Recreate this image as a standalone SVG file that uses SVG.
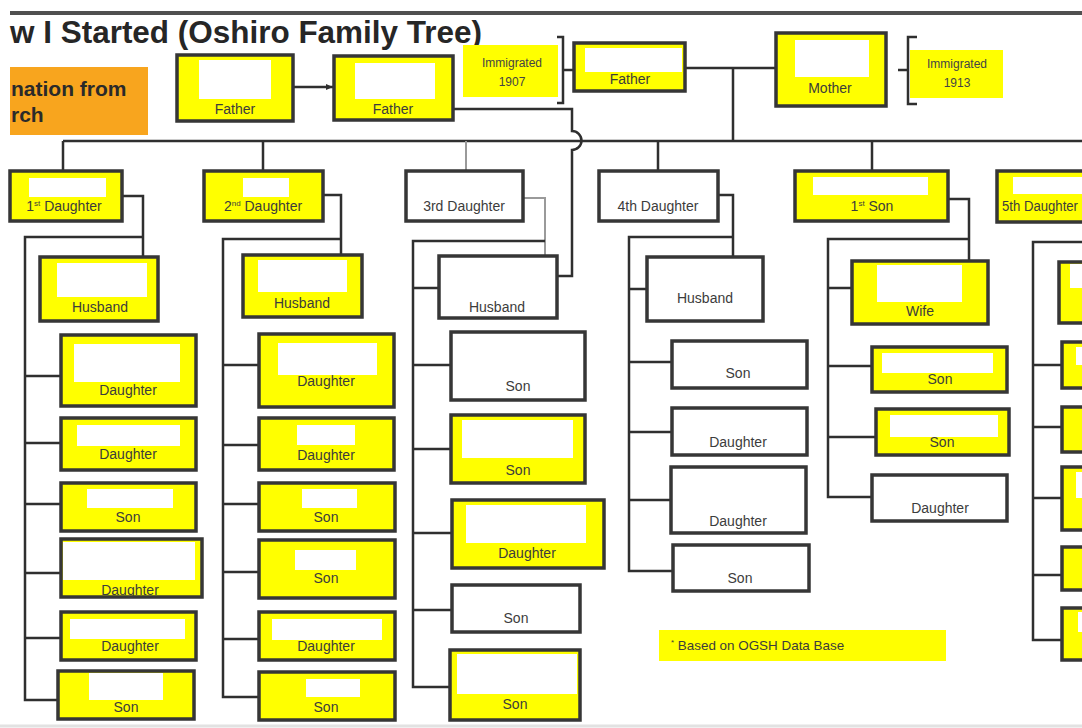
<svg xmlns="http://www.w3.org/2000/svg" width="1082" height="728" viewBox="0 0 1082 728">
<defs>
<style>
.box{stroke:#363636;stroke-width:3.5}
.y{fill:#FFFF00}
.w{fill:#ffffff}
.in{fill:#ffffff}
.lbl{font-family:"Liberation Sans",Arial,sans-serif;font-size:14px;fill:#3c3c3c;text-anchor:middle}
.sm{font-family:"Liberation Sans",Arial,sans-serif;font-size:12px;fill:#444;text-anchor:middle}
.ln{fill:none;stroke:#2f2f2f;stroke-width:2.5}
.lt{fill:none;stroke:#9a9a9a;stroke-width:2}
</style>
<marker id="ah" markerWidth="8" markerHeight="8" refX="7" refY="4" orient="auto" markerUnits="userSpaceOnUse">
<path d="M0,1 L7,4 L0,7 Z" fill="#2f2f2f"/>
</marker>
</defs>
<rect x="0" y="0" width="1082" height="728" fill="#ffffff"/>
<line x1="10" y1="13" x2="1082" y2="13" stroke="#505050" stroke-width="4"/>
<line x1="0" y1="726" x2="1082" y2="726" stroke="#e2e2e2" stroke-width="3"/>
<text x="10" y="43" font-family="'Liberation Sans',Arial,sans-serif" font-size="31" font-weight="bold" fill="#262626" textLength="472" lengthAdjust="spacingAndGlyphs">w I Started (Oshiro Family Tree)</text>

<g id="orange-note">
<rect x="10" y="67" width="138" height="68" fill="#F8A51E"/>
<text x="11" y="96" font-family="'Liberation Sans',Arial,sans-serif" font-size="21" font-weight="bold" fill="#2a2a2a">nation from</text>
<text x="11" y="122" font-family="'Liberation Sans',Arial,sans-serif" font-size="21" font-weight="bold" fill="#2a2a2a">rch</text>
</g>

<g id="connectors">
<line class="ln" x1="293" y1="87" x2="333" y2="87" marker-end="url(#ah)"/>
<path class="ln" d="M453,109 H572 V131 A9.5,9.5 0 0 1 572,150 V276 H557"/>
<path class="ln" d="M557,37 H563 V103 H557 M563,70 H574"/>
<path class="ln" d="M917,37 H908 V104 H917 M908,70 H898"/>
<path class="ln" d="M685,68 H776 M733,68 V141"/>
<path class="ln" d="M63,141 H1082"/>
<path class="ln" d="M63,141 V171 M263,141 V171 M658,141 V171 M872,141 V171"/>
<path class="lt" d="M466,141 V171"/>
<path class="ln" d="M122,196 H143 V257 M143,237 H25 V700 H58 M25,376 H61 M25,443 H61 M25,504 H61 M25,573 H61 M25,638 H61"/>
<path class="ln" d="M323,195 H341 V255 M341,239 H223 V697 H259 M223,365 H259 M223,445 H259 M223,504 H259 M223,572 H259 M223,639 H259"/>
<path class="lt" d="M523,198 H545 V256"/>
<path class="ln" d="M545,241 H413 V687 H450 M413,288 H439 M413,365 H451 M413,449 H451 M413,533 H452 M413,610 H452"/>
<path class="ln" d="M718,195 H733 V257 M733,237 H629 V571 H673 M629,289 H647 M629,362 H672 M629,432 H672 M629,500 H671"/>
<path class="ln" d="M948,199 H969 V261 M969,239 H828 V497 H872 M828,288 H852 M828,366 H872 M828,437 H876"/>
<path class="ln" d="M1082,242 H1033 V640 H1062 M1033,365 H1062 M1033,427 H1062 M1033,498 H1062 M1033,575 H1062"/>
</g>

<g id="gf1"><rect class="box y" x="177" y="55" width="116" height="66"/><rect class="in" x="199" y="60" width="72" height="39"/><text class="lbl" x="235" y="114">Father</text></g>
<g id="gf2"><rect class="box y" x="334" y="56" width="119" height="64"/><rect class="in" x="355" y="63" width="80" height="36"/><text class="lbl" x="393" y="114">Father</text></g>
<g id="imm1907"><rect x="463" y="45" width="95" height="52" fill="#FFFF00"/><text class="sm" x="512" y="67">Immigrated</text><text class="sm" x="512" y="86">1907</text></g>
<g id="father"><rect class="box y" x="574" y="43" width="111" height="48"/><rect class="in" x="585" y="48" width="97" height="24"/><text class="lbl" x="630" y="84">Father</text></g>
<g id="mother"><rect class="box y" x="776" y="33" width="110" height="73"/><rect class="in" x="795" y="40" width="74" height="37"/><text class="lbl" x="830" y="93">Mother</text></g>
<g id="imm1913"><rect x="910" y="50" width="93" height="48" fill="#FFFF00"/><text class="sm" x="957" y="68">Immigrated</text><text class="sm" x="957" y="87">1913</text></g>

<g id="d1"><rect class="box y" x="10" y="171" width="112" height="50"/><rect class="in" x="29" y="178" width="77" height="19"/><text class="lbl" x="64" y="211">1<tspan font-size="8" dy="-5">st</tspan><tspan dy="5"> Daughter</tspan></text></g>
<g id="d2"><rect class="box y" x="204" y="171" width="119" height="50"/><rect class="in" x="243" y="178" width="46" height="19"/><text class="lbl" x="263" y="211">2<tspan font-size="8" dy="-5">nd</tspan><tspan dy="5"> Daughter</tspan></text></g>
<g id="d3"><rect class="box w" x="406" y="171" width="117" height="50"/><text class="lbl" x="464" y="211">3rd Daughter</text></g>
<g id="d4"><rect class="box w" x="599" y="171" width="119" height="50"/><text class="lbl" x="658" y="211">4th Daughter</text></g>
<g id="s1"><rect class="box y" x="795" y="171" width="153" height="50"/><rect class="in" x="813" y="177" width="115" height="18"/><text class="lbl" x="872" y="211">1<tspan font-size="8" dy="-5">st</tspan><tspan dy="5"> Son</tspan></text></g>
<g id="d5"><rect class="box y" x="997" y="171" width="100" height="51"/><rect class="in" x="1013" y="177" width="80" height="17"/><text class="lbl" x="1002" y="211" style="text-anchor:start" textLength="76" lengthAdjust="spacingAndGlyphs">5th Daughter</text></g>

<g id="h1"><rect class="box y" x="40" y="257" width="118" height="64"/><rect class="in" x="57" y="263" width="90" height="34"/><text class="lbl" x="100" y="312">Husband</text></g>
<g id="c1a"><rect class="box y" x="61" y="335" width="135" height="71"/><rect class="in" x="74" y="344" width="106" height="38"/><text class="lbl" x="128" y="395">Daughter</text></g>
<g id="c1b"><rect class="box y" x="61" y="418" width="135" height="52"/><rect class="in" x="77" y="425" width="103" height="21"/><text class="lbl" x="128" y="459">Daughter</text></g>
<g id="c1c"><rect class="box y" x="61" y="483" width="135" height="48"/><rect class="in" x="87" y="489" width="86" height="19"/><text class="lbl" x="128" y="522">Son</text></g>
<g id="c1d"><rect class="box y" x="61" y="539" width="141" height="58"/><rect class="in" x="63" y="542" width="132" height="38"/><text class="lbl" x="130" y="595">Daughter</text></g>
<g id="c1e"><rect class="box y" x="61" y="612" width="135" height="48"/><rect class="in" x="70" y="619" width="115" height="20"/><text class="lbl" x="130" y="651">Daughter</text></g>
<g id="c1f"><rect class="box y" x="58" y="671" width="136" height="48"/><rect class="in" x="89" y="673" width="74" height="27"/><text class="lbl" x="126" y="712">Son</text></g>

<g id="h2"><rect class="box y" x="243" y="255" width="119" height="62"/><rect class="in" x="258" y="260" width="89" height="32"/><text class="lbl" x="302" y="308">Husband</text></g>
<g id="c2a"><rect class="box y" x="259" y="334" width="135" height="73"/><rect class="in" x="278" y="343" width="99" height="32"/><text class="lbl" x="326" y="386">Daughter</text></g>
<g id="c2b"><rect class="box y" x="259" y="418" width="135" height="52"/><rect class="in" x="297" y="425" width="58" height="20"/><text class="lbl" x="326" y="460">Daughter</text></g>
<g id="c2c"><rect class="box y" x="259" y="483" width="136" height="48"/><rect class="in" x="302" y="489" width="55" height="19"/><text class="lbl" x="326" y="522">Son</text></g>
<g id="c2d"><rect class="box y" x="259" y="540" width="136" height="58"/><rect class="in" x="295" y="550" width="61" height="20"/><text class="lbl" x="326" y="583">Son</text></g>
<g id="c2e"><rect class="box y" x="259" y="612" width="136" height="48"/><rect class="in" x="272" y="619" width="110" height="21"/><text class="lbl" x="326" y="651">Daughter</text></g>
<g id="c2f"><rect class="box y" x="259" y="672" width="136" height="48"/><rect class="in" x="306" y="679" width="54" height="18"/><text class="lbl" x="326" y="712">Son</text></g>

<g id="h3"><rect class="box w" x="439" y="256" width="118" height="62"/><text class="lbl" x="497" y="312">Husband</text></g>
<g id="c3a"><rect class="box w" x="451" y="332" width="134" height="68"/><text class="lbl" x="518" y="391">Son</text></g>
<g id="c3b"><rect class="box y" x="451" y="415" width="134" height="68"/><rect class="in" x="462" y="420" width="111" height="38"/><text class="lbl" x="518" y="475">Son</text></g>
<g id="c3c"><rect class="box y" x="452" y="500" width="152" height="68"/><rect class="in" x="466" y="505" width="120" height="38"/><text class="lbl" x="527" y="558">Daughter</text></g>
<g id="c3d"><rect class="box w" x="452" y="585" width="128" height="47"/><text class="lbl" x="516" y="623">Son</text></g>
<g id="c3e"><rect class="box y" x="450" y="650" width="130" height="70"/><rect class="in" x="457" y="654" width="120" height="40"/><text class="lbl" x="515" y="709">Son</text></g>

<g id="h4"><rect class="box w" x="647" y="257" width="116" height="64"/><text class="lbl" x="705" y="303">Husband</text></g>
<g id="c4a"><rect class="box w" x="672" y="341" width="135" height="47"/><text class="lbl" x="738" y="378">Son</text></g>
<g id="c4b"><rect class="box w" x="672" y="408" width="135" height="47"/><text class="lbl" x="738" y="447">Daughter</text></g>
<g id="c4c"><rect class="box w" x="671" y="467" width="135" height="66"/><text class="lbl" x="738" y="526">Daughter</text></g>
<g id="c4d"><rect class="box w" x="673" y="545" width="136" height="46"/><text class="lbl" x="740" y="583">Son</text></g>

<g id="w1"><rect class="box y" x="852" y="261" width="136" height="63"/><rect class="in" x="877" y="265" width="85" height="37"/><text class="lbl" x="920" y="316">Wife</text></g>
<g id="c5a"><rect class="box y" x="872" y="347" width="135" height="45"/><rect class="in" x="882" y="353" width="111" height="20"/><text class="lbl" x="940" y="384">Son</text></g>
<g id="c5b"><rect class="box y" x="876" y="409" width="133" height="46"/><rect class="in" x="890" y="415" width="108" height="22"/><text class="lbl" x="942" y="447">Son</text></g>
<g id="c5c"><rect class="box w" x="872" y="475" width="135" height="46"/><text class="lbl" x="940" y="513">Daughter</text></g>

<g id="c6a"><rect class="box y" x="1059" y="262" width="40" height="61"/><rect class="in" x="1070" y="264" width="20" height="24"/></g>
<g id="c6b"><rect class="box y" x="1062" y="342" width="40" height="46"/><rect class="in" x="1076" y="347" width="14" height="18"/></g>
<g id="c6c"><rect class="box y" x="1062" y="407" width="40" height="45"/></g>
<g id="c6d"><rect class="box y" x="1062" y="467" width="40" height="63"/><rect class="in" x="1076" y="472" width="14" height="26"/></g>
<g id="c6e"><rect class="box y" x="1062" y="547" width="40" height="43"/></g>
<g id="c6f"><rect class="box y" x="1062" y="608" width="40" height="52"/><rect class="in" x="1078" y="612" width="12" height="20"/></g>

<g id="footnote"><rect x="659" y="630" width="287" height="31" fill="#FFFF00"/><text x="671" y="650" font-family="'Liberation Sans',Arial,sans-serif" font-size="13" fill="#3c3c3c"><tspan font-size="8" dy="-5">*</tspan><tspan dy="5" textLength="170" lengthAdjust="spacingAndGlyphs"> Based on OGSH Data Base</tspan></text></g>
</svg>
